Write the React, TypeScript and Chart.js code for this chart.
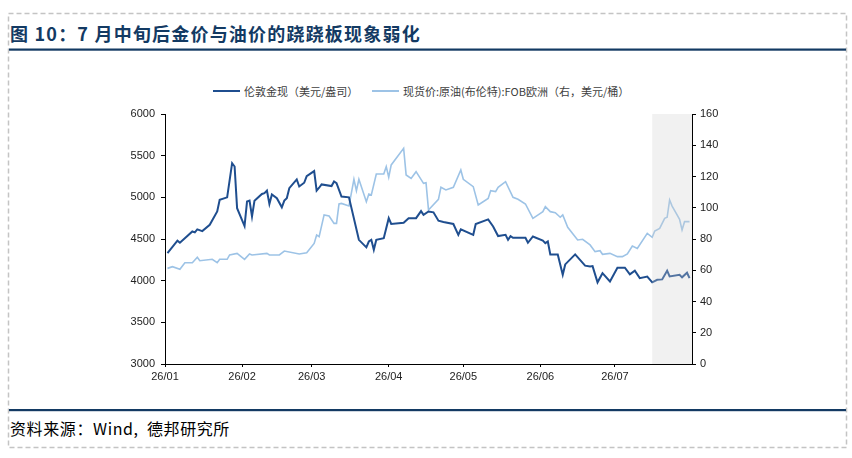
import React, { useEffect, useRef } from "react";
import { Chart, registerables } from "chart.js";

Chart.register(...registerables);

// x values are day offsets from 2026-01-01
const monthStarts = [0, 31, 59, 90, 120, 151, 181];
const monthLabels = ["26/01", "26/02", "26/03", "26/04", "26/05", "26/06", "26/07"];
const xMax = 212;
const shadeStartDay = 196; // 7月中旬

const goldDays = [1,5,6,11,12,13,15,18,21,22,25,27,28,29,32,33,34,35,36,39,40,41,42,43,45,47,48,49,50,53,54,56,57,60,61,62,63,67,68,69,71,74,78,81,82,83,84,85,88,90,91,96,98,101,103,104,106,108,110,112,116,118,119,124,125,130,132,134,137,138,139,140,145,146,148,152,153,154,155,158,160,161,165,169,171,172,174,176,179,182,185,187,189,191,194,196,198,200,202,203,207,208,210,211];
const goldValues = [4330,4480,4455,4590,4580,4615,4595,4670,4830,4970,5000,5410,5370,4870,4655,4950,4960,4770,4960,5040,5050,5080,4920,5035,4990,4880,4960,4990,5110,5215,5130,5175,5255,5315,5080,5115,5155,5135,5190,5170,5010,5000,4490,4400,4470,4490,4370,4490,4510,4750,4680,4695,4750,4750,4835,4790,4830,4820,4720,4705,4680,4550,4615,4550,4680,4735,4650,4535,4550,4490,4535,4515,4515,4455,4530,4480,4450,4470,4315,4315,4070,4195,4315,4180,4170,4175,3980,4090,3990,4155,4155,4075,4120,4030,4050,3980,4010,4015,4120,4050,4070,4040,4095,4030];

const oilDays = [1,3,6,8,11,13,14,19,21,22,25,26,29,32,34,35,41,42,46,48,54,57,60,61,62,64,66,68,69,70,71,74,76,77,78,81,82,83,85,88,89,90,91,96,97,99,101,104,105,106,110,111,113,116,119,120,124,126,130,131,133,134,137,140,142,145,148,151,152,153,155,157,159,160,162,166,168,171,173,175,176,179,182,184,186,188,190,194,196,197,199,201,202,203,204,206,207,208,209,211];
const oilValues = [61.2,62.3,60.6,64.8,64.8,68.3,66.1,67,64.8,67,67,69.8,70.8,67,70.4,69.8,70.8,69.8,69.8,72.3,70.4,71.2,77.2,82.6,81.5,95.4,94.7,90,90,102.4,102.8,101.1,118.2,110.9,118.2,103.9,108.8,108.2,121.6,121.6,126.3,119.5,127.4,138,121,118.8,123.1,115.6,116,98.6,105.4,113.1,111.4,113.1,124.2,118.2,113.5,101.8,106,110.9,110.3,113.1,116.7,106.7,105.4,102.4,93.2,96.4,97.5,100.7,97.5,96.8,93.9,95.4,87.5,79.4,79.8,76.2,71.9,72.5,70.2,70.8,68.7,68.7,70.4,75.5,74,83.6,81.1,85.1,86.8,93.2,93.9,105,101.1,95.4,92.6,85.8,91.1,91.1];

const goldLabel = "伦敦金现（美元/盎司）";
const oilLabel = "现货价:原油(布伦特):FOB欧洲（右，美元/桶）";
const goldColor = "#1F4E8F";
const oilColor = "#9DC3E6";
const navy = "#133A63";
const tickFont = { family: "'Liberation Sans', Arial, sans-serif", size: 11 };
const cjk = "'Noto Sans CJK SC', 'Noto Sans', sans-serif";

const shadePlugin = {
  id: "shade",
  afterDatasetsDraw(chart: any) {
    const { ctx, chartArea, scales } = chart;
    const x0 = scales.x.getPixelForValue(shadeStartDay);
    ctx.save();
    ctx.fillStyle = "rgba(210,210,210,0.3)";
    ctx.fillRect(x0, chartArea.top, chartArea.right - x0, chartArea.bottom - chartArea.top);
    ctx.restore();
  },
};

export default function App() {
  const ref = useRef<HTMLCanvasElement>(null);
  useEffect(() => {
    if (!ref.current) return;
    const chart = new Chart(ref.current, {
      type: "line",
      data: {
        datasets: [
          {
            label: goldLabel,
            data: goldDays.map((d, i) => ({ x: d, y: goldValues[i] })),
            borderColor: goldColor,
            backgroundColor: goldColor,
            borderWidth: 2,
            pointRadius: 0,
            tension: 0,
            yAxisID: "y",
          },
          {
            label: oilLabel,
            data: oilDays.map((d, i) => ({ x: d, y: oilValues[i] })),
            borderColor: oilColor,
            backgroundColor: oilColor,
            borderWidth: 1.6,
            pointRadius: 0,
            tension: 0,
            yAxisID: "y1",
          },
        ],
      },
      options: {
        animation: false,
        responsive: true,
        maintainAspectRatio: false,
        layout: { padding: { top: 14, bottom: 12, left: 100, right: 100 } },
        plugins: { legend: { display: false }, tooltip: { enabled: false } },
        scales: {
          x: {
            type: "linear",
            min: 0,
            max: xMax,
            afterBuildTicks: (s: any) => {
              s.ticks = monthStarts.map((v) => ({ value: v }));
            },
            afterFit: (s: any) => {
              s.height = 24;
            },
            ticks: {
              autoSkip: false,
              maxRotation: 0,
              padding: 3,
              color: "#222",
              font: tickFont,
              callback: (v: any) => {
                const i = monthStarts.indexOf(Number(v));
                return i >= 0 ? monthLabels[i] : "";
              },
            },
            grid: { display: true, drawOnChartArea: false, drawTicks: true, tickLength: 3, color: "#000" },
            border: { display: true, color: "#000", width: 1 },
          },
          y: {
            position: "left",
            min: 3000,
            max: 6000,
            afterFit: (s: any) => {
              s.width = 65;
            },
            ticks: { stepSize: 500, padding: 6, color: "#222", font: tickFont, callback: (v: any) => String(v) },
            grid: { display: true, drawOnChartArea: false, drawTicks: true, tickLength: 4, color: "#000" },
            border: { display: true, color: "#000", width: 1 },
          },
          y1: {
            position: "right",
            min: 0,
            max: 160,
            afterFit: (s: any) => {
              s.width = 60;
            },
            ticks: { stepSize: 20, padding: 4, color: "#222", font: tickFont, callback: (v: any) => String(v) },
            grid: { display: true, drawOnChartArea: false, drawTicks: true, tickLength: 4, color: "#000" },
            border: { display: true, color: "#000", width: 1 },
          },
        },
      },
      plugins: [shadePlugin],
    });
    return () => chart.destroy();
  }, []);

  const legendItem = (color: string, text: string, left: number) => (
    <div style={{ position: "absolute", left, top: 84, height: 14, display: "flex", alignItems: "center", whiteSpace: "nowrap" }}>
      <div style={{ width: 27, height: 2, background: color, marginRight: 4 }} />
      <span style={{ fontFamily: cjk, fontSize: 11, color: "#404040", lineHeight: "14px" }}>{text}</span>
    </div>
  );

  return (
    <div style={{ position: "fixed", left: 0, top: 0, width: 852, height: 458, background: "#fff", overflow: "hidden" }}>
      <svg width={852} height={458} style={{ position: "absolute", left: 0, top: 0 }}>
        <rect x={8.5} y={13.5} width={838} height={434} fill="none" stroke="#C4C4C4" strokeWidth={1.5} strokeDasharray="5 3" />
        <rect x={9} y={48.5} width={837} height={2.2} fill={navy} />
        <rect x={9} y={409} width={837} height={2.2} fill={navy} />
      </svg>
      <div style={{ position: "absolute", left: 10, top: 21, fontFamily: cjk, fontWeight: 700, fontSize: 18, letterSpacing: 1.2, color: navy, lineHeight: "24px", whiteSpace: "nowrap" }}>
        图 10：7 月中旬后金价与油价的跷跷板现象弱化
      </div>
      {legendItem(goldColor, goldLabel, 213)}
      {legendItem(oilColor, oilLabel, 372)}
      <div style={{ position: "absolute", left: 0, top: 100, width: 852, height: 300 }}>
        <canvas ref={ref} />
      </div>
      <div style={{ position: "absolute", left: 10, top: 418, fontFamily: cjk, fontSize: 16, letterSpacing: 0.6, color: "#000", lineHeight: "20px", whiteSpace: "pre" }}>
        {"资料来源：Wind,  德邦研究所"}
      </div>
    </div>
  );
}
